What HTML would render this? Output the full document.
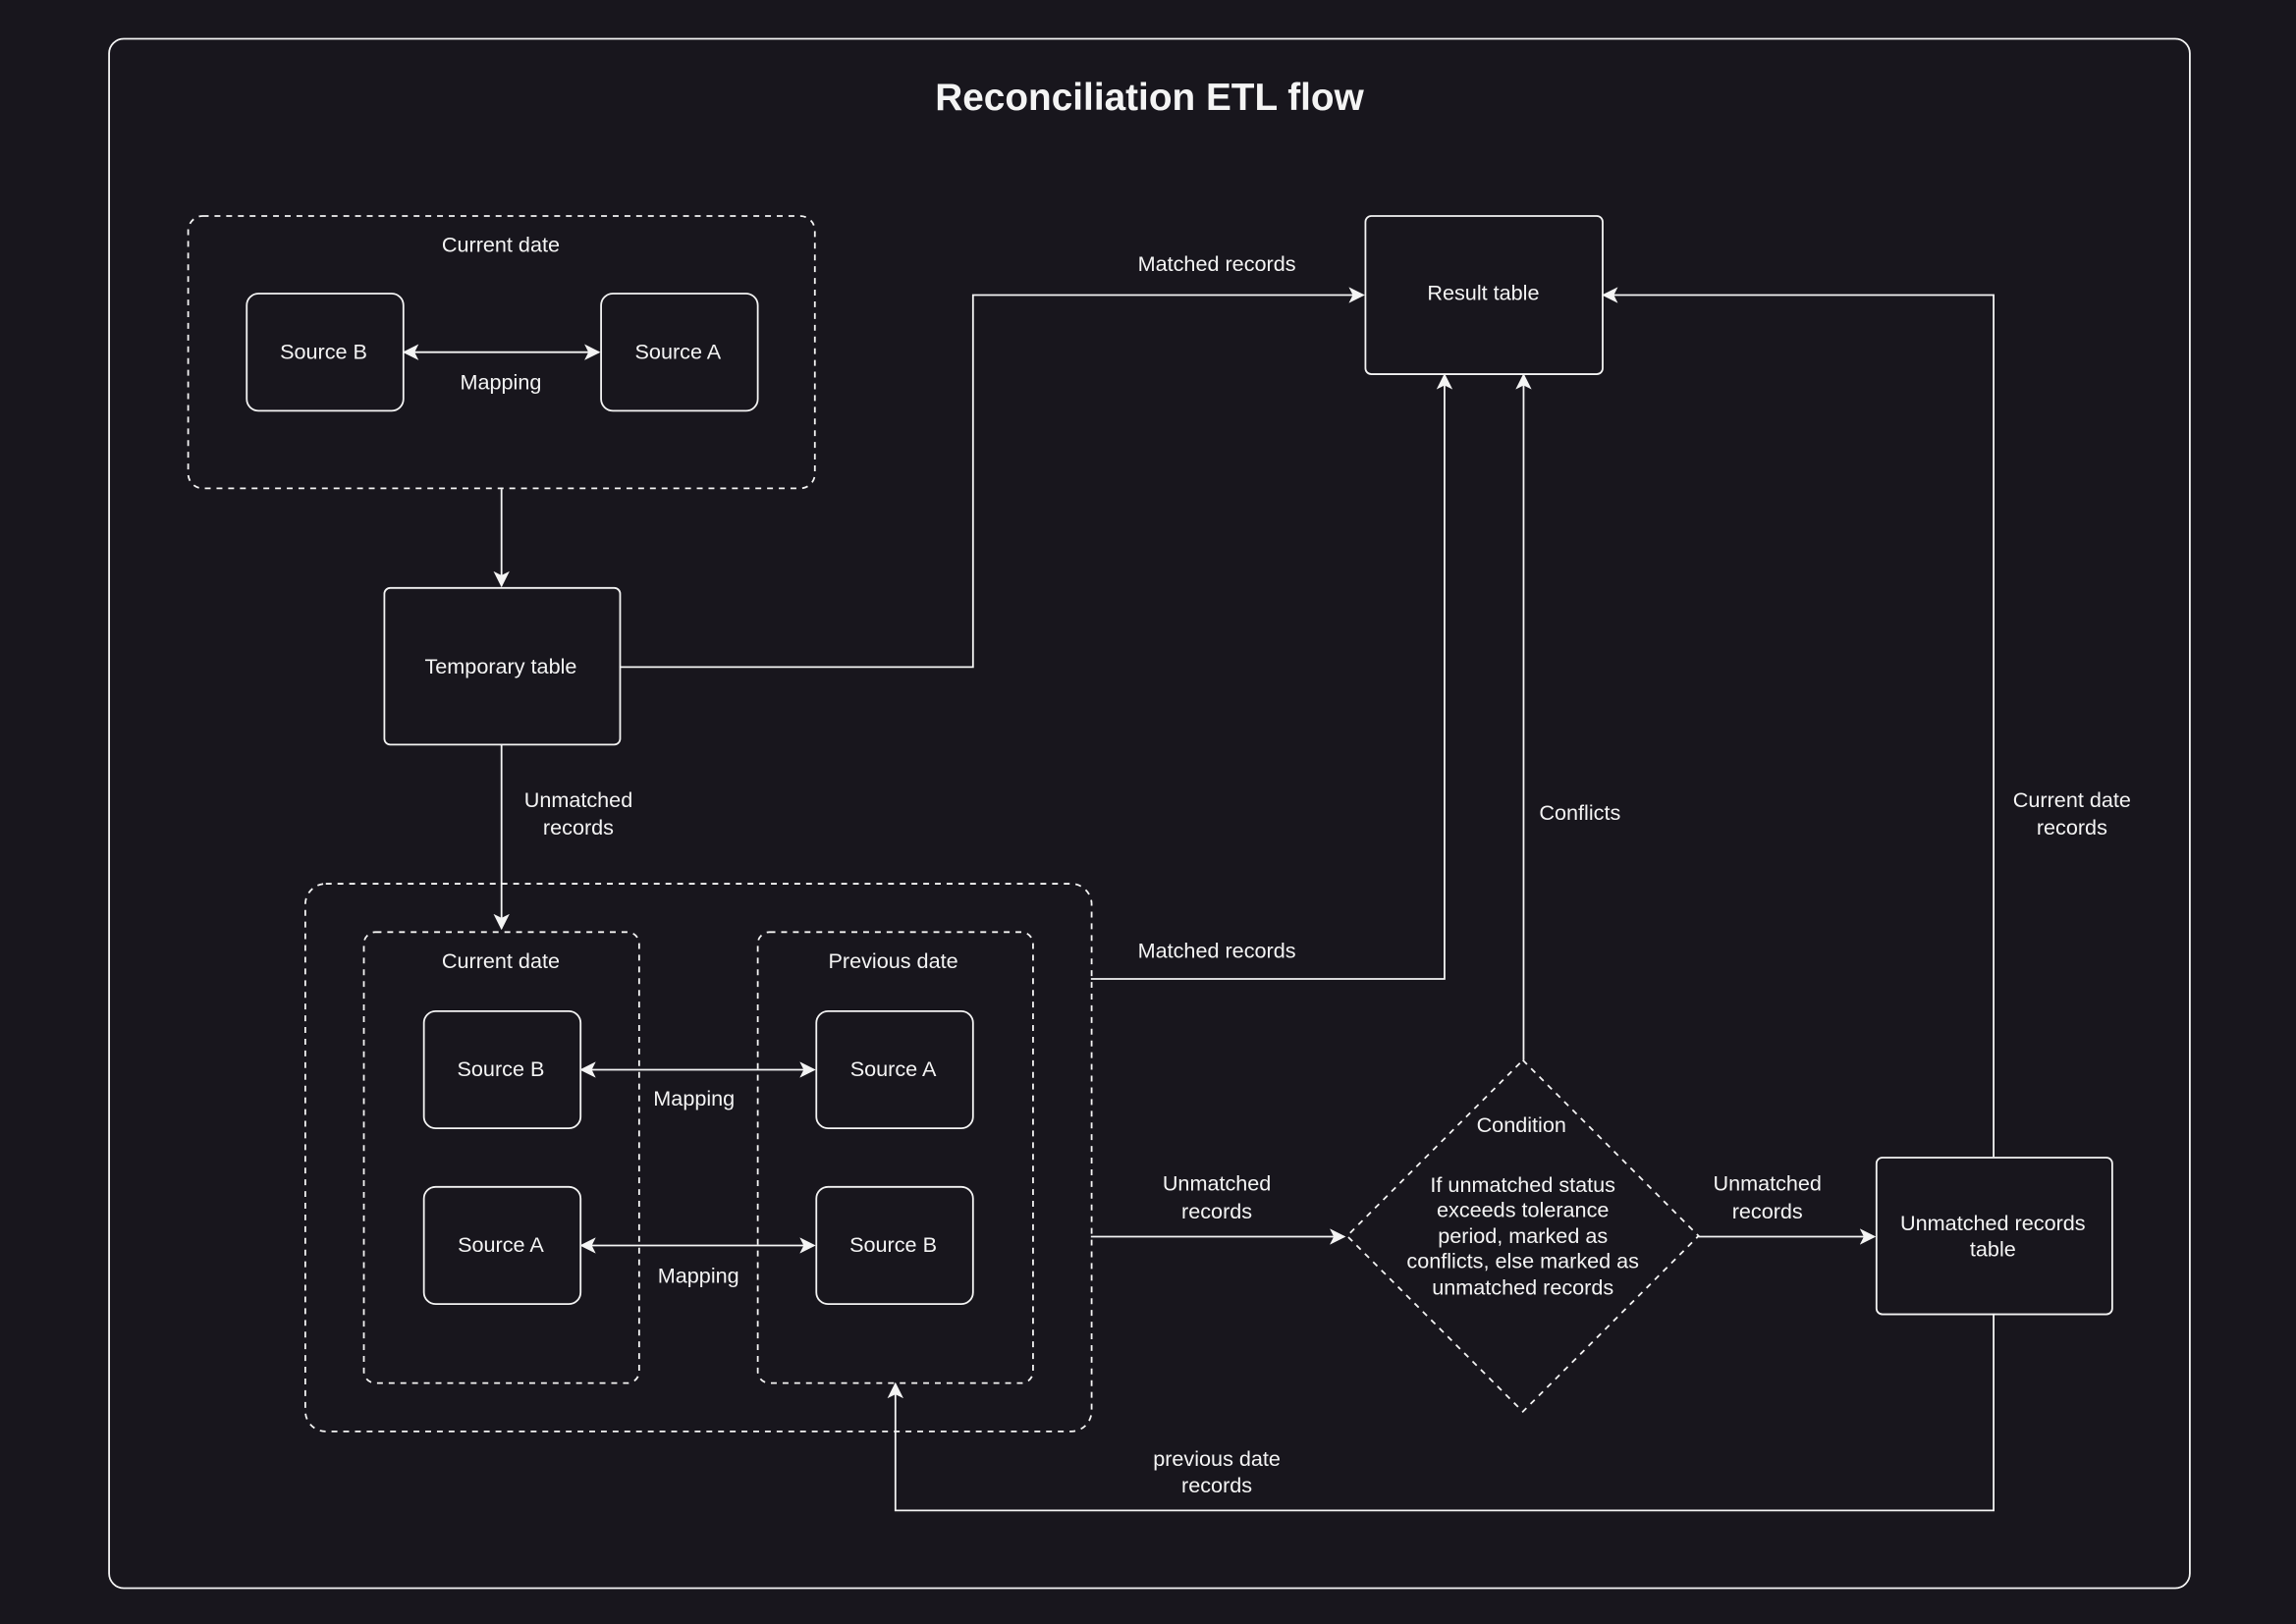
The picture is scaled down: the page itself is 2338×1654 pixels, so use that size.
<!DOCTYPE html>
<html><head><meta charset="utf-8"><style>
html,body{margin:0;padding:0;background:#18161d;}
svg{display:block;}
text{font-family:"Liberation Sans",Arial,sans-serif;fill:#f4f4f4;font-size:14.5px;text-anchor:middle;}
</style></head><body>
<svg width="2338" height="1654" viewBox="0 0 1568 1109" preserveAspectRatio="none" xmlns="http://www.w3.org/2000/svg">
<defs>
<marker id="a" viewBox="0 0 10 10" refX="9" refY="5" markerWidth="11" markerHeight="11" markerUnits="userSpaceOnUse" orient="auto-start-reverse">
<path d="M0,0 L10,5 L0,10 L2.5,5 Z" fill="#f4f4f4"/>
</marker>
</defs>
<rect width="1568" height="1109" fill="#18161d"/>
<g fill="none" stroke="#f4f4f4" stroke-width="1.2">
<rect x="74.5" y="26.5" width="1421" height="1058" rx="10"/>
<rect x="128.5" y="147.5" width="428" height="186" rx="10" stroke-dasharray="4 4"/>
<rect x="168.5" y="200.5" width="107" height="80" rx="8"/>
<rect x="410.5" y="200.5" width="107" height="80" rx="8"/>
<rect x="262.5" y="401.5" width="161" height="107" rx="4"/>
<rect x="932.5" y="147.5" width="162" height="108" rx="4"/>
<rect x="208.5" y="603.5" width="537" height="374" rx="14" stroke-dasharray="4 4"/>
<rect x="248.5" y="636.5" width="188" height="308" rx="8" stroke-dasharray="4 4"/>
<rect x="517.5" y="636.5" width="188" height="308" rx="8" stroke-dasharray="4 4"/>
<rect x="289.5" y="690.5" width="107" height="80" rx="8"/>
<rect x="557.5" y="690.5" width="107" height="80" rx="8"/>
<rect x="289.5" y="810.5" width="107" height="80" rx="8"/>
<rect x="557.5" y="810.5" width="107" height="80" rx="8"/>
<rect x="1281.5" y="790.5" width="161" height="107" rx="4"/>
<path d="M1040,724 L1160,844 L1040,964 L920,844 Z" stroke-dasharray="4 4"/>
</g>
<g fill="none" stroke="#f4f4f4" stroke-width="1.2">
<path d="M276,240.5 H409" marker-start="url(#a)" marker-end="url(#a)"/>
<path d="M342.5,334 V400" marker-end="url(#a)"/>
<path d="M423,455.5 H664.5 V201.5 H931" marker-end="url(#a)"/>
<path d="M342.5,508 V634" marker-end="url(#a)"/>
<path d="M397,730.5 H556" marker-start="url(#a)" marker-end="url(#a)"/>
<path d="M397,850.5 H556" marker-start="url(#a)" marker-end="url(#a)"/>
<path d="M745,668.5 H986.5 V256" marker-end="url(#a)"/>
<path d="M745,844.5 H918" marker-end="url(#a)"/>
<path d="M1040.5,724 V256" marker-end="url(#a)"/>
<path d="M1160,844.5 H1280" marker-end="url(#a)"/>
<path d="M1361.5,790 V201.5 H1095" marker-end="url(#a)"/>
<path d="M1361.5,897 V1031.5 H611.5 V945" marker-end="url(#a)"/>
</g>
<text x="785" y="75" style="font-size:26px;font-weight:bold">Reconciliation ETL flow</text>
<text x="342" y="172">Current date</text>
<text x="221" y="245">Source B</text>
<text x="463" y="245">Source A</text>
<text x="342" y="266">Mapping</text>
<text x="342" y="460">Temporary table</text>
<text x="1013" y="205">Result table</text>
<text x="831" y="185">Matched records</text>
<text x="395" y="551">Unmatched</text>
<text x="395" y="570">records</text>
<text x="342" y="661">Current date</text>
<text x="610" y="661">Previous date</text>
<text x="342" y="735">Source B</text>
<text x="610" y="735">Source A</text>
<text x="342" y="855">Source A</text>
<text x="610" y="855">Source B</text>
<text x="474" y="755">Mapping</text>
<text x="477" y="876">Mapping</text>
<text x="831" y="654">Matched records</text>
<text x="831" y="813">Unmatched</text>
<text x="831" y="832">records</text>
<text x="1079" y="560">Conflicts</text>
<text x="1415" y="551">Current date</text>
<text x="1415" y="570">records</text>
<text x="1039" y="773">Condition</text>
<text x="1040" y="814">If unmatched status</text>
<text x="1040" y="831">exceeds  tolerance</text>
<text x="1040" y="849">period, marked as</text>
<text x="1040" y="866">conflicts, else marked as</text>
<text x="1040" y="884">unmatched records</text>
<text x="1207" y="813">Unmatched</text>
<text x="1207" y="832">records</text>
<text x="1361" y="840">Unmatched records</text>
<text x="1361" y="858">table</text>
<text x="831" y="1001">previous date</text>
<text x="831" y="1019">records</text>
</svg>
</body></html>
